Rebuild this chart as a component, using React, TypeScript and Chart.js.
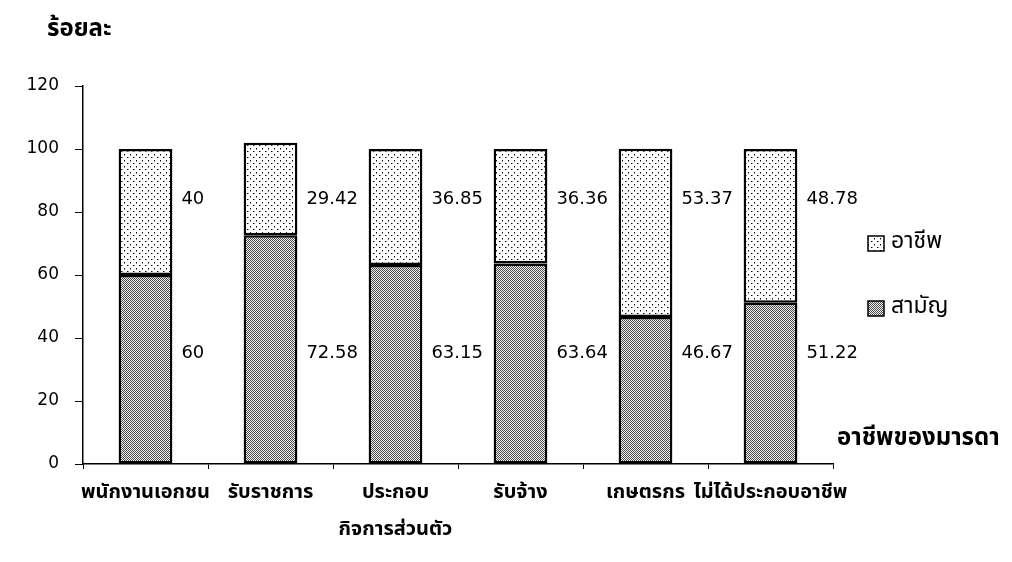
import React, { useEffect, useRef } from "react";
import { Chart, registerables } from "chart.js";

Chart.register(...registerables);

const categories: (string | string[])[] = [
  "พนักงานเอกชน",
  "รับราชการ",
  ["ประกอบ", "กิจการส่วนตัว"],
  "รับจ้าง",
  "เกษตรกร",
  "ไม่ได้ประกอบอาชีพ",
];
const generalValues = [60, 72.58, 63.15, 63.64, 46.67, 51.22];
const vocationalValues = [40, 29.42, 36.85, 36.36, 53.37, 48.78];
const yTicks = [0, 20, 40, 60, 80, 100, 120];
const seriesLabels = ["สามัญ", "อาชีพ"];
const yTitle = "ร้อยละ";
const xTitle = "อาชีพของมารดา";

const THAI = "'Noto Sans Thai', 'Noto Sans Thai UI', 'Loma', 'Garuda', 'Norasi', 'Liberation Sans', 'DejaVu Sans', sans-serif";
const NUM = "'DejaVu Sans', 'Liberation Sans', Arial, sans-serif";

function makeDotPattern(ctx: CanvasRenderingContext2D) {
  const c = document.createElement("canvas");
  c.width = 6;
  c.height = 6;
  const g = c.getContext("2d")!;
  g.fillStyle = "#fff";
  g.fillRect(0, 0, 6, 6);
  g.fillStyle = "#000";
  g.fillRect(1, 1, 1, 1);
  g.fillRect(4, 4, 1, 1);
  g.fillStyle = "#888";
  g.fillRect(2, 1, 1, 1);
  g.fillRect(4, 5, 1, 1);
  return ctx.createPattern(c, "repeat")!;
}

function makeDensePattern(ctx: CanvasRenderingContext2D) {
  const c = document.createElement("canvas");
  c.width = 2;
  c.height = 2;
  const g = c.getContext("2d")!;
  g.fillStyle = "#f2f2f2";
  g.fillRect(0, 0, 2, 2);
  g.fillStyle = "#4a4a4a";
  g.fillRect(0, 0, 1, 1);
  g.fillRect(1, 1, 1, 1);
  return ctx.createPattern(c, "repeat")!;
}

export default function App() {
  const ref = useRef<HTMLCanvasElement | null>(null);

  useEffect(() => {
    const canvas = ref.current!;
    const ctx = canvas.getContext("2d")!;
    const dots = makeDotPattern(ctx);
    const dense = makeDensePattern(ctx);
    const labelAnchors = [35, 84];

    const extras = {
      id: "extras",
      afterDatasetsDraw(chart: any) {
        const c = chart.ctx as CanvasRenderingContext2D;
        const yScale = chart.scales.y;
        c.save();
        c.fillStyle = "#000";
        c.font = `18px ${NUM}`;
        c.textAlign = "left";
        c.textBaseline = "middle";
        chart.data.datasets.forEach((ds: any, di: number) => {
          const meta = chart.getDatasetMeta(di);
          meta.data.forEach((bar: any, i: number) => {
            const y = yScale.getPixelForValue(labelAnchors[di]);
            c.fillText(String(ds.data[i]), bar.x + bar.width / 2 + 9, y);
          });
        });
        // titles
        c.font = `bold 24px ${THAI}`;
        c.fillText(yTitle, 47, 31);
        c.fillText(xTitle, 837, 440);
        // legend
        const items = [1, 0];
        items.forEach((di, k) => {
          const ds = chart.data.datasets[di];
          const by = 236 + k * 65;
          c.fillStyle = ds.backgroundColor;
          c.fillRect(868, by, 16, 15);
          c.strokeStyle = "#000";
          c.lineWidth = 1.5;
          c.strokeRect(868, by, 16, 15);
          c.fillStyle = "#000";
          c.font = `23px ${THAI}`;
          c.fillText(ds.label, 891, by + 7);
        });
        c.restore();
      },
    };

    const chart = new Chart(canvas, {
      type: "bar",
      data: {
        labels: categories,
        datasets: [
          {
            label: seriesLabels[0],
            data: generalValues,
            backgroundColor: dense as any,
            borderColor: "#000",
            borderWidth: 2.5,
            borderSkipped: false,
          },
          {
            label: seriesLabels[1],
            data: vocationalValues,
            backgroundColor: dots as any,
            borderColor: "#000",
            borderWidth: 2.5,
            borderSkipped: false,
          },
        ],
      },
      options: {
        responsive: false,
        animation: false,
        layout: { padding: { top: 86, right: 179, left: 0, bottom: 0 } },
        plugins: {
          legend: { display: false },
          tooltip: { enabled: false },
        },
        datasets: { bar: { categoryPercentage: 1, barPercentage: 0.43 } },
        scales: {
          x: {
            stacked: true,
            grid: {
              display: true,
              drawOnChartArea: false,
              drawTicks: true,
              tickLength: 5,
              color: "#000",
              lineWidth: 1,
            },
            border: { color: "#000", width: 1.5 },
            ticks: {
              color: "#000",
              font: { family: THAI, size: 20, weight: "bold", lineHeight: 1.85 },
              padding: 6,
              autoSkip: false,
              maxRotation: 0,
              minRotation: 0,
            },
            afterFit: (s: any) => {
              s.height = 98;
            },
          },
          y: {
            stacked: true,
            min: 0,
            max: 120,
            afterBuildTicks: (s: any) => {
              s.ticks = yTicks.map((v) => ({ value: v }));
            },
            grid: {
              display: true,
              drawOnChartArea: false,
              drawTicks: true,
              tickLength: 8,
              color: "#000",
              lineWidth: 1,
            },
            border: { color: "#000", width: 1.5 },
            ticks: {
              color: "#000",
              font: { family: NUM, size: 17 },
              padding: 16,
            },
            afterFit: (s: any) => {
              s.width = 83;
            },
          },
        },
      },
      plugins: [extras],
    });
    return () => chart.destroy();
  }, []);

  return (
    <div style={{ position: "absolute", left: 0, top: 0, width: 1012, height: 562, background: "#fff" }}>
      <canvas ref={ref} width={1012} height={562} style={{ display: "block" }} />
    </div>
  );
}
